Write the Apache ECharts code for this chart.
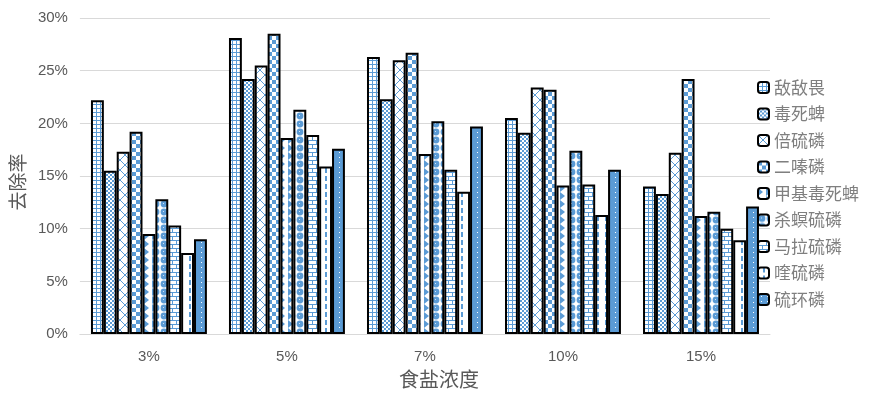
<!DOCTYPE html>
<html><head><meta charset="utf-8">
<script src="https://cdn.jsdelivr.net/npm/echarts@6/dist/echarts.min.js"></script>
<style>html,body{margin:0;padding:0;background:#fff}#c{width:884px;height:394px}</style>
</head><body><div id="c"></div>
<script>
const categories = ['3%', '5%', '7%', '10%', '15%'];
const seriesNames = ['敌敌畏', '毒死蜱', '倍硫磷', '二嗪磷', '甲基毒死蜱', '杀螟硫磷', '马拉硫磷', '喹硫磷', '硫环磷'];
const ddw  = [22.2, 28.1, 26.3, 20.5, 14.0];
const dsp  = [15.5, 24.2, 22.3, 19.1, 13.3];
const bll  = [17.3, 25.5, 26.0, 23.4, 17.2];
const eql  = [19.2, 28.5, 26.7, 23.2, 24.2];
const jjdsp = [9.5, 18.6, 17.1, 14.1, 11.2];
const smll = [12.8, 21.3, 20.2, 17.4, 11.6];
const mlll = [10.3, 18.9, 15.6, 14.2, 10.0];
const kll  = [7.7, 15.9, 13.5, 11.3, 8.9];
const hhl  = [9.0, 17.6, 19.7, 15.6, 12.1];
const seriesValues = [ddw, dsp, bll, eql, jjdsp, smll, mlll, kll, hhl];
const yTickMin = 0, yTickMax = 30, yTickStep = 5;

const BLUE = '#5B9BD5';
function tile(w, h, bg, fg, fn) {
  const c = document.createElement('canvas');
  c.width = w; c.height = h;
  const g = c.getContext('2d');
  g.fillStyle = bg; g.fillRect(0, 0, w, h);
  g.fillStyle = fg;
  fn(g);
  return { image: c, repeat: 'repeat' };
}
const patterns = [
  tile(4, 4, '#fff', BLUE, g => { g.fillRect(0, 0, 4, 1); g.fillRect(0, 0, 1, 4); }),
  tile(4, 4, '#fff', BLUE, g => { g.fillRect(0, 0, 2, 2); g.fillRect(2, 2, 2, 2); }),
  tile(10, 10, '#fff', BLUE, g => { for (let i = 0; i < 10; i++) { g.fillRect(i, i, 1, 1); g.fillRect(9 - i, i, 1, 1); } }),
  tile(8, 8, '#fff', BLUE, g => { g.fillRect(0, 0, 4, 4); g.fillRect(4, 4, 4, 4); }),
  tile(8, 8, '#fff', BLUE, g => { g.beginPath(); g.moveTo(0, 0); g.lineTo(5, 4); g.lineTo(0, 8); g.closePath(); g.fill(); }),
  tile(8, 8, '#fff', BLUE, g => { g.beginPath(); g.arc(4, 4, 3.4, 0, Math.PI * 2); g.fill(); g.fillStyle = '#cfe1f3'; g.fillRect(3, 3, 1, 1); }),
  tile(8, 8, '#fff', BLUE, g => { g.fillRect(0, 0, 8, 1); g.fillRect(0, 4, 8, 1); g.fillRect(0, 0, 1, 4); g.fillRect(4, 4, 1, 4); }),
  tile(8, 8, '#fff', BLUE, g => { g.fillRect(5, 0, 2, 5); }),
  tile(6, 5, BLUE, '#fff', g => { g.fillRect(3, 2, 1, 1); })
];

const series = seriesNames.map((name, i) => ({
  name: name,
  type: 'bar',
  data: seriesValues[i],
  barGap: '0%',
  barCategoryGap: '16%',
  itemStyle: { color: patterns[i], borderColor: '#000', borderWidth: 2 }
}));

const chart = echarts.init(document.getElementById('c'), null, { renderer: 'canvas' });
chart.setOption({
  animation: false,
  backgroundColor: '#fff',
  grid: { left: 72, right: 114, top: 18, bottom: 59, containLabel: false },
  legend: {
    orient: 'vertical',
    left: 757,
    top: 79,
    padding: 0,
    itemWidth: 11,
    itemHeight: 11,
    itemGap: 9.5,
    data: seriesNames,
    textStyle: { fontSize: 17, color: '#7f7f7f', lineHeight: 17, fontFamily: '"Noto Sans CJK SC", sans-serif' }
  },
  xAxis: {
    type: 'category',
    data: categories,
    axisLine: { lineStyle: { color: '#d9d9d9', width: 1 } },
    axisTick: { show: false },
    axisLabel: { color: '#595959', fontSize: 15, margin: 15, fontFamily: '"Liberation Sans", sans-serif' },
    name: '食盐浓度',
    nameLocation: 'middle',
    nameGap: 32,
    nameTextStyle: { fontSize: 20, color: '#595959', padding: [0, 0, 0, 28], fontFamily: '"Noto Sans CJK SC", sans-serif' }
  },
  yAxis: {
    type: 'value',
    min: yTickMin,
    max: yTickMax,
    interval: yTickStep,
    axisLine: { show: false },
    axisTick: { show: false },
    splitLine: { lineStyle: { color: '#d9d9d9', width: 1 } },
    axisLabel: { formatter: '{value}%', color: '#595959', fontSize: 15, margin: 12, fontFamily: '"Liberation Sans", sans-serif' },
    name: '去除率',
    nameLocation: 'middle',
    nameRotate: 90,
    nameGap: 44,
    nameTextStyle: { fontSize: 19, color: '#595959', padding: [0, 12, 0, 0], fontFamily: '"Noto Sans CJK SC", sans-serif' }
  },
  series: series
});
</script>
</body></html>
